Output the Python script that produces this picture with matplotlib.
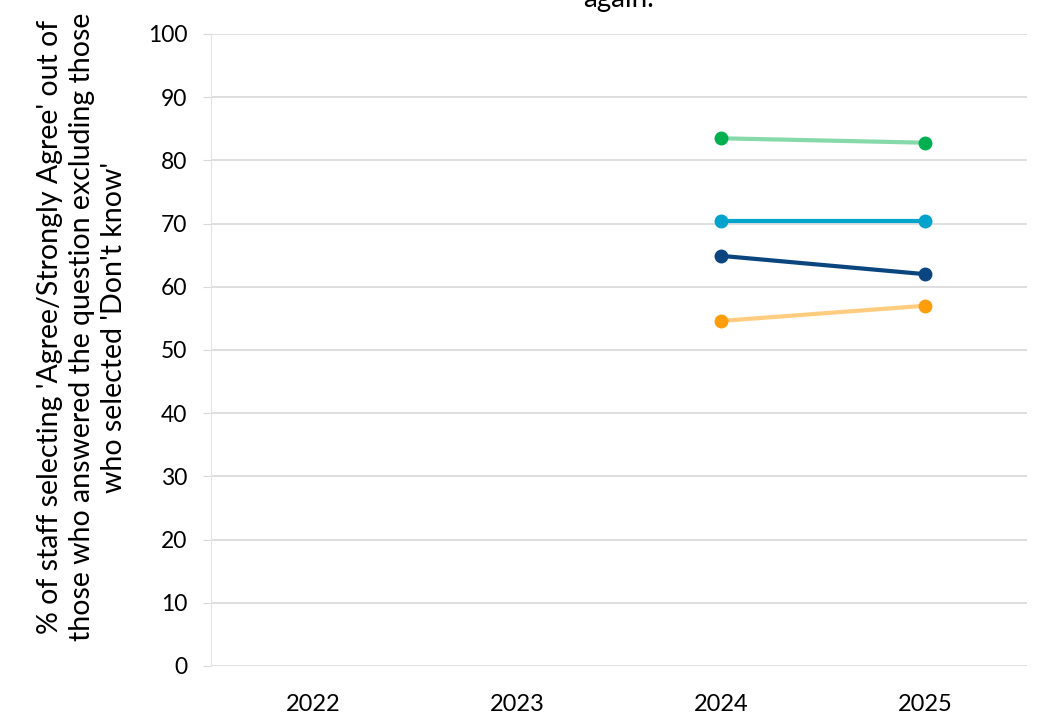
import matplotlib
matplotlib.use("Agg")
import matplotlib.pyplot as plt

plt.rcParams['font.family'] = ['Lato', 'DejaVu Sans']

years = ['2022', '2023', '2024', '2025']
x_pos = [2, 3]

green = [83.5, 82.8]
cyan = [70.4, 70.4]
navy = [64.9, 62.0]
orange = [54.6, 57.0]

series = [
    (green, '#86D9A8', '#00B050'),
    (cyan, '#00A3CC', '#00A3CC'),
    (navy, '#0B457F', '#0B457F'),
    (orange, '#FFCC80', '#FF9E0D'),
]

fig = plt.figure(figsize=(10.38, 7.18), dpi=100)
ax = fig.add_axes([211 / 1038, 1 - 666 / 718, 816 / 1038, 632 / 718])

for vals, line_c, mark_c in series:
    ax.plot(x_pos, vals, color=line_c, lw=3, solid_capstyle='butt', zorder=3)
    ax.plot(x_pos, vals, 'o', color=mark_c, markersize=9, zorder=4)

ax.set_xlim(-0.5, 3.5)
ax.set_ylim(0, 100)
ax.set_yticks(range(0, 101, 10))
ax.set_xticks(range(len(years)))
ax.set_xticklabels(years)
ax.grid(axis='y', color='#D9D9D9', lw=1.2)
ax.set_axisbelow(True)
for s in ['top', 'right', 'bottom']:
    ax.spines[s].set_visible(False)
ax.spines['left'].set_color('#DCE6F0')
ax.tick_params(axis='y', length=6, color='#D9D9D9', labelsize=16.5, pad=11)
ax.tick_params(axis='x', length=0, labelsize=17, pad=20)

ax.set_ylabel("% of staff selecting 'Agree/Strongly Agree' out of\n"
              "those who answered the question excluding those\n"
              "who selected 'Don't know'", fontsize=20.5, linespacing=1.3,
              ha='center', va='center')
ax.yaxis.set_label_coords((82 - 211) / 816, (666 - 327) / 632)

fig.text(619 / 1038, 1 - 12 / 718, 'again.', ha='center', va='bottom', fontsize=20)

fig.savefig('out.png', dpi=100)
